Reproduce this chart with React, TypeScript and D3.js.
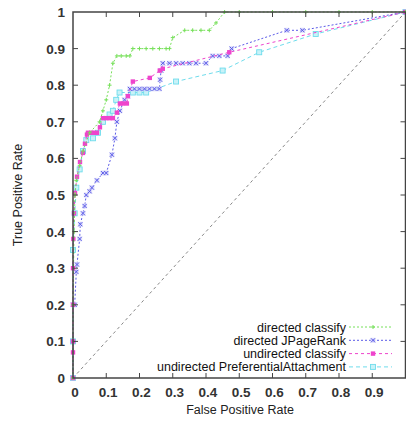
import { useMemo } from 'react';
import * as d3 from 'd3';

// ROC points (fpr, tpr)
const directedClassifyFpr = [0, 0, 0.003, 0.006, 0.01, 0.02, 0.03, 0.05, 0.08, 0.09, 0.1, 0.11, 0.12, 0.132, 0.145, 0.16, 0.171, 0.18, 0.2, 0.22, 0.24, 0.26, 0.28, 0.29, 0.3, 0.336, 0.36, 0.385, 0.41, 0.43, 0.456, 0.5, 0.6, 0.7, 0.8, 0.9, 1];
const directedClassifyTpr = [0, 0.2, 0.4, 0.5, 0.54, 0.58, 0.62, 0.67, 0.7, 0.73, 0.76, 0.8, 0.86, 0.88, 0.88, 0.88, 0.88, 0.9, 0.9, 0.9, 0.9, 0.9, 0.9, 0.9, 0.93, 0.95, 0.95, 0.95, 0.95, 0.97, 1, 1, 1, 1, 1, 1, 1];

const directedPageRankFpr = [0, 0, 0.005, 0.01, 0.012, 0.02, 0.022, 0.03, 0.035, 0.04, 0.05, 0.057, 0.072, 0.09, 0.1, 0.117, 0.126, 0.132, 0.141, 0.155, 0.165, 0.171, 0.185, 0.2, 0.215, 0.23, 0.245, 0.26, 0.262, 0.265, 0.27, 0.29, 0.31, 0.33, 0.35, 0.37, 0.4, 0.42, 0.44, 0.465, 0.477, 0.643, 0.69, 1];
const directedPageRankTpr = [0, 0.2, 0.2, 0.29, 0.31, 0.38, 0.42, 0.45, 0.47, 0.5, 0.51, 0.52, 0.54, 0.56, 0.56, 0.61, 0.655, 0.7, 0.73, 0.76, 0.77, 0.79, 0.79, 0.79, 0.79, 0.79, 0.79, 0.79, 0.815, 0.84, 0.86, 0.86, 0.86, 0.86, 0.86, 0.86, 0.86, 0.88, 0.88, 0.88, 0.9, 0.95, 0.95, 1];

const undirectedClassifyFpr = [0, 0, 0, 0, 0, 0.001, 0.003, 0.006, 0.012, 0.021, 0.03, 0.036, 0.042, 0.045, 0.055, 0.063, 0.072, 0.081, 0.09, 0.1, 0.11, 0.12, 0.132, 0.141, 0.15, 0.162, 0.165, 0.18, 0.231, 0.261, 0.27, 0.47, 1];
const undirectedClassifyTpr = [0, 0.07, 0.1, 0.2, 0.3, 0.38, 0.45, 0.505, 0.55, 0.59, 0.615, 0.64, 0.665, 0.67, 0.67, 0.67, 0.67, 0.685, 0.71, 0.71, 0.71, 0.71, 0.725, 0.75, 0.75, 0.75, 0.77, 0.81, 0.82, 0.84, 0.845, 0.89, 1];

const undirectedPrefFpr = [0, 0, 0, 0.005, 0.01, 0.02, 0.03, 0.04, 0.06, 0.075, 0.09, 0.11, 0.12, 0.13, 0.14, 0.18, 0.2, 0.22, 0.31, 0.45, 0.56, 0.73, 1];
const undirectedPrefTpr = [0, 0.1, 0.35, 0.45, 0.52, 0.57, 0.62, 0.65, 0.655, 0.67, 0.7, 0.72, 0.73, 0.76, 0.78, 0.78, 0.78, 0.78, 0.81, 0.84, 0.89, 0.94, 1];

const seriesNames = ['directed classify', 'directed JPageRank', 'undirected classify', 'undirected PreferentialAttachment'];
const seriesColors = ['#77e05a', '#5a5ae8', '#ee44cc', '#6edcec'];
const seriesDash = ['2,2', '2,2', '3,3', '4,3'];
const ticks = [0, 0.1, 0.2, 0.3, 0.4, 0.5, 0.6, 0.7, 0.8, 0.9, 1];

const W = 406;
const H = 422;
const FONT = '"Liberation Sans", Arial, sans-serif';

function Marker({ kind, x, y, color }: { kind: number; x: number; y: number; color: string }) {
  if (kind === 0) {
    return (
      <g stroke={color} strokeWidth={1}>
        <line x1={x - 2} x2={x + 2} y1={y} y2={y} />
        <line x1={x} x2={x} y1={y - 2} y2={y + 2} />
      </g>
    );
  }
  if (kind === 1) {
    return (
      <g>
        <rect x={x - 2.5} y={y - 2.5} width={5} height={5} fill="#d0d0f8" opacity={0.7} />
        <g stroke={color} strokeWidth={1}>
          <line x1={x - 2} x2={x + 2} y1={y - 2} y2={y + 2} />
          <line x1={x - 2} x2={x + 2} y1={y + 2} y2={y - 2} />
        </g>
      </g>
    );
  }
  if (kind === 2) {
    return <rect x={x - 2.2} y={y - 2.2} width={4.4} height={4.4} fill={color} />;
  }
  return <rect x={x - 2.5} y={y - 2.5} width={5} height={5} fill="#c8f2f8" stroke={color} strokeWidth={0.9} />;
}

export default function App() {
  const x = useMemo(() => d3.scaleLinear().domain([0, 1]).range([73, 405.5]), []);
  const y = useMemo(() => d3.scaleLinear().domain([0, 1]).range([378, 12]), []);

  const series = [
    d3.zip(directedClassifyFpr, directedClassifyTpr),
    d3.zip(directedPageRankFpr, directedPageRankTpr),
    d3.zip(undirectedClassifyFpr, undirectedClassifyTpr),
    d3.zip(undirectedPrefFpr, undirectedPrefTpr),
  ];

  const line = d3.line<number[]>().x((d) => x(d[0])).y((d) => y(d[1]));
  const [x0, x1] = x.range();
  const [y0, y1] = y.range();

  // draw order: last series below, first on top (as in the reference)
  const order = [3, 1, 2, 0];

  return (
    <svg width={W} height={H} style={{ position: 'absolute', left: 0, top: 0, background: '#fff' }} fontFamily={FONT}>
      <rect width={W} height={H} fill="#fff" />

      {/* diagonal */}
      <line x1={x(0)} y1={y(0)} x2={x(1)} y2={y(1)} stroke="#888" strokeWidth={1} strokeDasharray="3,3" />

      {order.map((i) => (
        <g key={i}>
          <path d={line(series[i]) || ''} fill="none" stroke={seriesColors[i]} strokeWidth={1} strokeDasharray={seriesDash[i]} />
          {series[i].map((d, j) => (
            <Marker key={j} kind={i} x={x(d[0])} y={y(d[1])} color={seriesColors[i]} />
          ))}
        </g>
      ))}

      {/* frame + inward ticks */}
      <rect x={x0} y={y1} width={x1 - x0} height={y0 - y1} fill="none" stroke="#444" strokeWidth={1.5} />
      {ticks.slice(1, -1).map((t) => (
        <g key={t} stroke="#444" strokeWidth={1}>
          <line x1={x(t)} x2={x(t)} y1={y0} y2={y0 - 5} />
          <line x1={x(t)} x2={x(t)} y1={y1} y2={y1 + 5} />
          <line x1={x0} x2={x0 + 5} y1={y(t)} y2={y(t)} />
          <line x1={x1} x2={x1 - 5} y1={y(t)} y2={y(t)} />
        </g>
      ))}

      {ticks.map((t) => (
        <text key={'y' + t} x={65} y={y(t) + 5} textAnchor="end" fontSize={13.5} fontWeight="bold" fill="#333">
          {t === 0 || t === 1 ? String(t) : t.toFixed(1)}
        </text>
      ))}
      {ticks.slice(0, -1).map((t) => (
        <text key={'x' + t} x={x(t) + 2} y={397} textAnchor="middle" fontSize={13.5} fontWeight="bold" fill="#333">
          {t === 0 ? '0' : t.toFixed(1)}
        </text>
      ))}

      <text x={240} y={414} textAnchor="middle" fontSize={12.5} fill="#222">False Positive Rate</text>
      <text transform={`translate(22,${195}) rotate(-90)`} textAnchor="middle" fontSize={12.5} fill="#222">True Positive Rate</text>

      {/* legend */}
      {seriesNames.map((name, i) => {
        const ly = 327 + i * 13.3;
        return (
          <g key={name}>
            <text x={346} y={ly + 4.5} textAnchor="end" fontSize={12.5} fill="#111">{name}</text>
            <line x1={349} x2={392} y1={ly} y2={ly} stroke={seriesColors[i]} strokeWidth={1} strokeDasharray={seriesDash[i]} />
            <Marker kind={i} x={373} y={ly} color={seriesColors[i]} />
          </g>
        );
      })}
    </svg>
  );
}
